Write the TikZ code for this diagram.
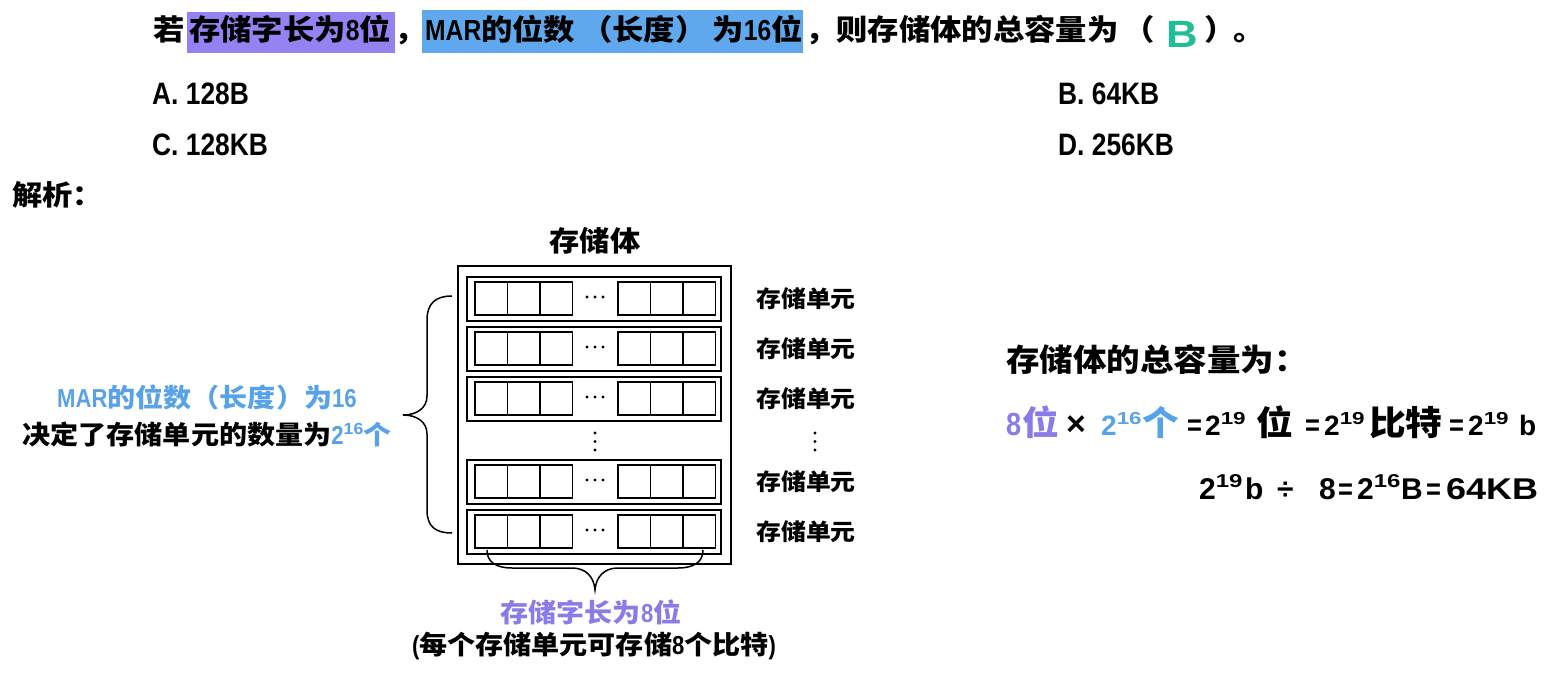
\documentclass[tikz,border=0pt]{standalone}
\usepackage{fontspec}
\setmainfont{Noto Sans CJK SC}[FakeStretch=1.08]
\newfontfamily\latf{Liberation Sans}[FakeStretch=0.85]
\newfontfamily\latw{Liberation Sans}
\newfontfamily\latx{Liberation Sans}[FakeStretch=1.2]
\newfontfamily\ansfont{Liberation Sans}[FakeStretch=1.15]

\definecolor{hlpurple}{RGB}{148,130,242}
\definecolor{hlblue}{RGB}{96,168,238}
\definecolor{txpurple}{RGB}{138,124,232}
\definecolor{txblue}{RGB}{88,162,232}
\definecolor{ansgreen}{RGB}{32,190,150}

% Latin run inside CJK text, sizes and powers
\newcommand\la[1]{{\latf #1}}
\newcommand\fs[1]{\fontsize{#1}{#1}\selectfont}
\newcommand\pwr[2]{#1\raisebox{0.4em}{\scalebox{0.8}[0.62]{#2}}}

\begin{document}
\begin{tikzpicture}[x=1pt,y=-1pt,
  txt/.style={inner sep=0pt, anchor=base west, font=\bfseries},
  ttl/.style={txt, font=\bfseries\fs{29}},
  opt/.style={txt, font=\bfseries\fs{31}\latf},
  unitlbl/.style={inner sep=0pt, anchor=base, font=\bfseries\fs{23}},
  eqd/.style={txt, font=\bfseries\fs{28}\latw},
  eqs/.style={txt, font=\bfseries\fs{30}\latf},
  eqz/.style={txt, font=\bfseries\fs{34}},
  eqe/.style={txt, font=\bfseries\fs{30}\latw},
  eqf/.style={txt, font=\bfseries\fs{30}\latf},
  outerbox/.style={draw, line width=1.6pt},
  rowbox/.style={draw, line width=1.8pt},
  cellbox/.style={draw, line width=1.8pt},
  brc/.style={draw, line width=1.5pt},
]
\useasboundingbox (0,0) rectangle (1559,684);

% ---------- question line ----------
\fill[hlpurple] (187,12) rectangle (395,53);
\fill[hlblue] (422,10) rectangle (803,53);
\node[ttl] (q1) at (153,41) {若};
\node[ttl] (q2) at (189,41) {存储字长为\la{8}位};
\node[ttl] (q3) at (394,41) {，};
\node[ttl] (q4) at (425,41) {\la{MAR}的位数\hspace{6pt}（长度）\hspace{6pt}为\la{16}位};
\node[ttl] (q5) at (805,41) {，则存储体的总容量为};
\node[ttl] (q6) at (1123,41) {（};
\node[txt, anchor=base, font=\bfseries\fs{38}\ansfont, text=ansgreen] (ans) at (1182,48) {B};
\node[ttl] (q7) at (1204,41) {）};
\node[ttl] (q8) at (1233,41) {。};

% ---------- options ----------
\node[opt] (oa) at (152,105) {A. 128B};
\node[opt] (ob) at (1058,105) {B. 64KB};
\node[opt] (oc) at (152,156) {C. 128KB};
\node[opt] (od) at (1058,156) {D. 256KB};

\node[txt, font=\bfseries\fs{28}] (jx) at (12,206) {解析：};

% ---------- memory body ----------
\node[txt, anchor=base, font=\bfseries\fs{28}] (body) at (595,251.5) {存储体};
\draw[outerbox] (458,266) rectangle (731,564);

\foreach \t/\lb in {277/u1,327/u2,377/u3,460/u4,510/u5} {
  \draw[rowbox] (467,\t) rectangle (721,\t+44);
  \foreach \x in {475,507.5,540,618,650.5,683}
    \draw[cellbox] (\x,\t+5) rectangle ++(32.5,33);
  \foreach \dx in {-8,0,8}
    \fill (595+\dx,\t+20) circle (1.7);
  \node[unitlbl] (\lb) at (806,\t+30.7) {存储单元};
}
% vertical ellipses
\foreach \yy in {433,441.5,450} {
  \fill (595,\yy) circle (1.7);
  \fill (815,\yy) circle (1.7);
}

% ---------- braces ----------
\coordinate (lbtop) at (452,296);
\coordinate (lbtip) at (403,415);
\coordinate (lbbot) at (452,533);
\draw[brc] (lbtop) .. controls (436,296) and (427,303) .. (427,320) -- (427,396)
  .. controls (427,408) and (417,415) .. (lbtip)
  .. controls (417,415) and (427,422) .. (427,434) -- (427,510)
  .. controls (427,527) and (436,533) .. (lbbot);

\coordinate (bbl) at (487,550);
\coordinate (bbtip) at (595,590);
\coordinate (bbr) at (703,550);
\draw[brc] (bbl) .. controls (487,562) and (496,568) .. (512,568) -- (572,568)
  .. controls (586,568) and (594,577) .. (bbtip)
  .. controls (596,577) and (604,568) .. (618,568) -- (678,568)
  .. controls (694,568) and (703,562) .. (bbr);

% ---------- brace labels ----------
\node[txt, anchor=base, font=\bfseries\fs{26}, text=txblue] (mar) at (207,407.5)
  {\la{MAR}的位数（长度）为\la{16}};
\node[txt, anchor=base, font=\bfseries\fs{26}] (cnt) at (207,444.5)
  {决定了存储单元的数量为\textcolor{txblue}{\la{\pwr{2}{16}}个}};

\node[txt, anchor=base, font=\bfseries\fs{26}, text=txpurple] (wl) at (591,622.5)
  {存储字长为\la{8}位};
\node[txt, anchor=base, font=\bfseries\fs{26}] (note) at (594,654)
  {\la{(}每个存储单元可存储\la{8}个比特\la{)}};

% ---------- total capacity ----------
\node[txt, font=\bfseries\fs{31}] (tot) at (1006,372) {存储体的总容量为：};

\node[txt, font=\bfseries\fs{32}\latf, text=txpurple] (e1) at (1006,436) {8};
\node[eqz, text=txpurple] (e2) at (1022,436) {位};
\node[txt, font=\bfseries\fs{34}\latw] (e3) at (1066,436) {×};
\node[eqd, text=txblue] (e4) at (1101,436) {\pwr{2}{16}};
\node[eqz, text=txblue] (e5) at (1142,436) {个};
\node[eqs] (e6) at (1187,436) {=};
\node[eqd] (e7) at (1205,436) {\pwr{2}{19}};
\node[eqz] (e8) at (1256,436) {位};
\node[eqs] (e9) at (1305,436) {=};
\node[eqd] (e10) at (1324,436) {\pwr{2}{19}};
\node[eqz] (e11) at (1369,436) {比特};
\node[eqs] (e12) at (1449,436) {=};
\node[eqd] (e13) at (1468,436) {\pwr{2}{19}};
\node[eqd] (e14) at (1519,436) {b};

\node[eqe] (f1) at (1199,500) {\pwr{2}{19}};
\node[eqe] (f2) at (1245,500) {b};
\node[eqe] (f3) at (1277,500) {÷};
\node[eqe] (f4) at (1319,500) {8};
\node[eqf] (f5) at (1338,500) {=};
\node[eqe] (f6) at (1357,500) {\pwr{2}{16}};
\node[eqe] (f7) at (1401,500) {B};
\node[eqf] (f8) at (1426,500) {=};
\node[txt, font=\bfseries\fs{30}\latx] (f9) at (1446,500) {64KB};
\end{tikzpicture}
\end{document}
